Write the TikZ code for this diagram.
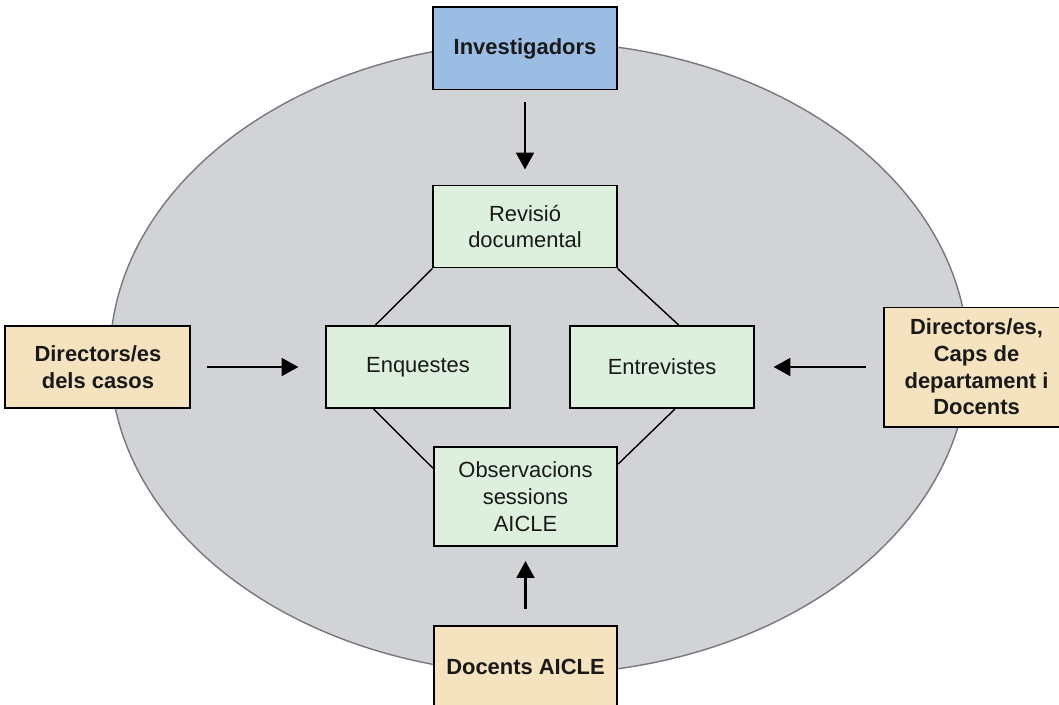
\documentclass[tikz,border=0pt]{standalone}
\usepackage{fontspec}
\setmainfont{Liberation Sans}
\usetikzlibrary{arrows.meta,positioning,calc}
\definecolor{ovalgray}{RGB}{210,211,214}
\definecolor{ovalline}{RGB}{118,120,126}
\definecolor{invblue}{RGB}{156,189,227}
\definecolor{srctan}{RGB}{245,227,192}
\definecolor{mgreen}{RGB}{221,240,221}

\begin{document}
\begin{tikzpicture}[x=0.025cm, y=-0.025cm, font=\fontsize{15.6}{19}\selectfont, node distance=2cm,
  bx/.style={draw,line width=1.4pt,align=center,text=black!90,minimum width=4.575cm,minimum height=2.05cm,inner sep=2pt,fill=#1},
  src/.style={bx=#1,font=\fontsize{15.6}{19}\selectfont\bfseries},
  arr/.style={-{Triangle[length=4.2mm,width=4.4mm]},line width=2.1pt},
  lnk/.style={line width=1pt}]
\useasboundingbox (0,0) rectangle (1059,704);
\fill[ovalgray,draw=ovalline,line width=1pt] (539,358) ellipse [x radius=10.725cm, y radius=7.9cm];
% methods
\node[bx=mgreen] (rev) at (525,226.5) {Revisió\\documental};
\node[bx=mgreen] (enq) at (418,367) {Enquestes};
\node[bx=mgreen] (ent) at (662,367) {Entrevistes};
\node[bx=mgreen, minimum height=2.475cm] (obs) at (525.5,496.5) {Observacions\\sessions\\AICLE};
% informants
\node[src=invblue, above=2.35cm of rev] (inv) {Investigadors};
\node[src=srctan, left=3.35cm of enq, minimum width=4.625cm] (dir) {Directors/es\\dels casos};
\node[src=srctan, right=3.2cm of ent, minimum width=4.65cm, minimum height=2.975cm] (caps) {Directors/es,\\Caps de\\departament i\\Docents};
\node[src=srctan, below=1.95cm of obs] (doc) {Docents AICLE};
\draw[lnk] (rev.south west) -- ($(enq.north west)!0.27!(enq.north east)$);
\draw[lnk] (rev.south east) -- ($(ent.north west)!0.59!(ent.north east)$);
\draw[lnk] ($(enq.south west)!0.26!(enq.south east)$) -- ($(obs.north west)!0.22!(obs.south west)$);
\draw[lnk] ($(ent.south west)!0.57!(ent.south east)$) -- ($(obs.north east)!0.18!(obs.south east)$);
\draw[arr,shorten <=0.3cm,shorten >=0.375cm] (inv) -- (rev);
\draw[arr,shorten <=0.4cm,shorten >=0.675cm] (dir) -- (enq);
\draw[arr,shorten <=0.425cm,shorten >=0.475cm] (caps.west |- ent.east) -- (ent.east);
\draw[arr,shorten <=0.4cm,shorten >=0.35cm] (doc) -- (obs);
\end{tikzpicture}
\end{document}
